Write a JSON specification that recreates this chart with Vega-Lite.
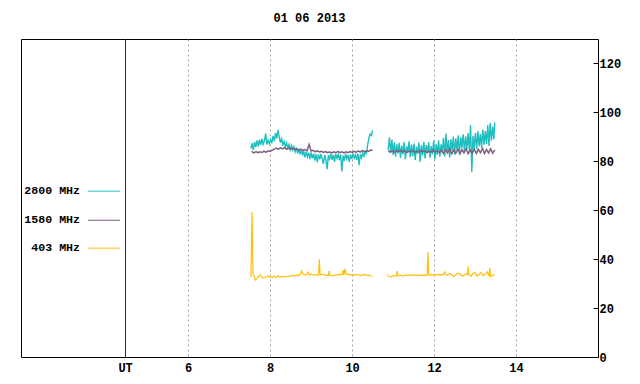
{
"$schema": "https://vega.github.io/schema/vega-lite/v6.json",
"width": 577, "height": 318,
"autosize": {"type": "none"},
"padding": {"left": 21, "top": 39, "right": 42, "bottom": 27},
"background": "white",
"title": {"text": "01 06 2013", "font": "Liberation Mono", "fontSize": 12, "fontWeight": "bold", "color": "black", "offset": 14, "anchor": "middle"},
"config": {
  "view": {"stroke": "black", "strokeWidth": 1},
  "axis": {"labelFont": "Liberation Mono", "labelFontSize": 12, "labelFontWeight": "bold", "labelColor": "black", "domain": false, "title": null}
},
"datasets": {
  "f2800": [
{"s":1,"t":7.53,"v":85.2},{"s":1,"t":7.56,"v":87.4},{"s":1,"t":7.59,"v":84.6},{"s":1,"t":7.62,"v":87.9},{"s":1,"t":7.65,"v":85.8},{"s":1,"t":7.68,"v":88.6},{"s":1,"t":7.71,"v":86.1},{"s":1,"t":7.74,"v":88.9},{"s":1,"t":7.77,"v":86.7},{"s":1,"t":7.80,"v":89.2},
{"s":1,"t":7.83,"v":87.0},{"s":1,"t":7.86,"v":88.4},{"s":1,"t":7.89,"v":91.3},{"s":1,"t":7.92,"v":86.9},{"s":1,"t":7.95,"v":88.6},{"s":1,"t":7.98,"v":87.2},{"s":1,"t":8.01,"v":88.9},{"s":1,"t":8.04,"v":87.4},{"s":1,"t":8.07,"v":90.4},{"s":1,"t":8.10,"v":88.2},
{"s":1,"t":8.13,"v":91.6},{"s":1,"t":8.16,"v":89.3},{"s":1,"t":8.19,"v":92.8},{"s":1,"t":8.22,"v":90.1},{"s":1,"t":8.25,"v":87.6},{"s":1,"t":8.28,"v":89.2},{"s":1,"t":8.31,"v":86.8},{"s":1,"t":8.34,"v":88.1},{"s":1,"t":8.37,"v":85.9},{"s":1,"t":8.40,"v":87.6},
{"s":1,"t":8.43,"v":85.4},{"s":1,"t":8.46,"v":86.9},{"s":1,"t":8.49,"v":84.8},{"s":1,"t":8.52,"v":86.5},{"s":1,"t":8.55,"v":84.6},{"s":1,"t":8.58,"v":86.0},{"s":1,"t":8.61,"v":83.9},{"s":1,"t":8.64,"v":85.6},{"s":1,"t":8.67,"v":83.2},{"s":1,"t":8.70,"v":85.1},
{"s":1,"t":8.73,"v":82.9},{"s":1,"t":8.76,"v":84.7},{"s":1,"t":8.79,"v":82.4},{"s":1,"t":8.82,"v":84.2},{"s":1,"t":8.85,"v":81.6},{"s":1,"t":8.88,"v":83.9},{"s":1,"t":8.91,"v":81.8},{"s":1,"t":8.94,"v":83.5},{"s":1,"t":8.97,"v":80.9},{"s":1,"t":9.00,"v":83.6},
{"s":1,"t":9.03,"v":81.2},{"s":1,"t":9.06,"v":83.1},{"s":1,"t":9.09,"v":80.4},{"s":1,"t":9.12,"v":82.9},{"s":1,"t":9.15,"v":79.6},{"s":1,"t":9.18,"v":82.8},{"s":1,"t":9.21,"v":80.8},{"s":1,"t":9.24,"v":83.0},{"s":1,"t":9.27,"v":81.1},{"s":1,"t":9.30,"v":78.9},
{"s":1,"t":9.33,"v":82.6},{"s":1,"t":9.36,"v":80.7},{"s":1,"t":9.39,"v":76.8},{"s":1,"t":9.42,"v":82.5},{"s":1,"t":9.45,"v":80.9},{"s":1,"t":9.48,"v":83.1},{"s":1,"t":9.51,"v":80.6},{"s":1,"t":9.54,"v":82.7},{"s":1,"t":9.57,"v":79.8},{"s":1,"t":9.60,"v":83.0},
{"s":1,"t":9.63,"v":81.2},{"s":1,"t":9.66,"v":82.8},{"s":1,"t":9.69,"v":80.5},{"s":1,"t":9.72,"v":82.9},{"s":1,"t":9.75,"v":75.9},{"s":1,"t":9.78,"v":82.4},{"s":1,"t":9.81,"v":80.2},{"s":1,"t":9.84,"v":83.1},{"s":1,"t":9.87,"v":81.0},{"s":1,"t":9.90,"v":82.6},
{"s":1,"t":9.93,"v":79.7},{"s":1,"t":9.96,"v":82.8},{"s":1,"t":9.99,"v":80.9},{"s":1,"t":10.02,"v":83.0},{"s":1,"t":10.05,"v":81.3},{"s":1,"t":10.08,"v":82.7},{"s":1,"t":10.11,"v":80.6},{"s":1,"t":10.14,"v":83.2},{"s":1,"t":10.17,"v":78.4},{"s":1,"t":10.20,"v":82.9},
{"s":1,"t":10.23,"v":81.4},{"s":1,"t":10.26,"v":83.6},{"s":1,"t":10.29,"v":82.1},{"s":1,"t":10.32,"v":84.0},{"s":1,"t":10.35,"v":83.2},{"s":1,"t":10.38,"v":86.8},{"s":1,"t":10.41,"v":89.6},{"s":1,"t":10.44,"v":91.2},{"s":1,"t":10.47,"v":90.6},{"s":1,"t":10.50,"v":92.6},
{"s":2,"t":10.88,"v":84.6},{"s":2,"t":10.91,"v":89.8},{"s":2,"t":10.94,"v":83.4},{"s":2,"t":10.97,"v":88.9},{"s":2,"t":11.00,"v":82.6},{"s":2,"t":11.03,"v":87.8},{"s":2,"t":11.06,"v":81.9},{"s":2,"t":11.09,"v":86.9},{"s":2,"t":11.12,"v":83.2},{"s":2,"t":11.15,"v":87.6},
{"s":2,"t":11.18,"v":81.4},{"s":2,"t":11.21,"v":86.4},{"s":2,"t":11.24,"v":82.8},{"s":2,"t":11.27,"v":87.9},{"s":2,"t":11.30,"v":80.9},{"s":2,"t":11.33,"v":86.1},{"s":2,"t":11.36,"v":83.5},{"s":2,"t":11.39,"v":88.2},{"s":2,"t":11.42,"v":81.7},{"s":2,"t":11.45,"v":86.8},
{"s":2,"t":11.48,"v":82.1},{"s":2,"t":11.51,"v":87.3},{"s":2,"t":11.54,"v":80.6},{"s":2,"t":11.57,"v":86.0},{"s":2,"t":11.60,"v":83.0},{"s":2,"t":11.63,"v":87.7},{"s":2,"t":11.66,"v":79.8},{"s":2,"t":11.69,"v":86.5},{"s":2,"t":11.72,"v":82.4},{"s":2,"t":11.75,"v":88.0},
{"s":2,"t":11.78,"v":81.2},{"s":2,"t":11.81,"v":86.6},{"s":2,"t":11.84,"v":83.3},{"s":2,"t":11.87,"v":87.9},{"s":2,"t":11.90,"v":81.5},{"s":2,"t":11.93,"v":86.2},{"s":2,"t":11.96,"v":82.9},{"s":2,"t":11.99,"v":88.4},{"s":2,"t":12.02,"v":80.8},{"s":2,"t":12.05,"v":87.0},
{"s":2,"t":12.08,"v":82.6},{"s":2,"t":12.11,"v":88.6},{"s":2,"t":12.14,"v":81.9},{"s":2,"t":12.17,"v":86.9},{"s":2,"t":12.20,"v":83.4},{"s":2,"t":12.23,"v":89.6},{"s":2,"t":12.26,"v":82.0},{"s":2,"t":12.29,"v":91.4},{"s":2,"t":12.32,"v":83.3},{"s":2,"t":12.35,"v":88.7},
{"s":2,"t":12.38,"v":81.6},{"s":2,"t":12.41,"v":89.0},{"s":2,"t":12.44,"v":84.2},{"s":2,"t":12.47,"v":90.1},{"s":2,"t":12.50,"v":82.7},{"s":2,"t":12.53,"v":89.4},{"s":2,"t":12.56,"v":84.8},{"s":2,"t":12.59,"v":90.6},{"s":2,"t":12.62,"v":83.1},{"s":2,"t":12.65,"v":89.8},
{"s":2,"t":12.68,"v":85.5},{"s":2,"t":12.71,"v":91.0},{"s":2,"t":12.74,"v":84.0},{"s":2,"t":12.77,"v":90.2},{"s":2,"t":12.80,"v":85.1},{"s":2,"t":12.83,"v":91.6},{"s":2,"t":12.86,"v":84.4},{"s":2,"t":12.89,"v":94.7},{"s":2,"t":12.92,"v":75.6},{"s":2,"t":12.95,"v":90.4},
{"s":2,"t":12.98,"v":85.3},{"s":2,"t":13.01,"v":91.7},{"s":2,"t":13.04,"v":84.9},{"s":2,"t":13.07,"v":92.3},{"s":2,"t":13.10,"v":86.2},{"s":2,"t":13.13,"v":91.1},{"s":2,"t":13.16,"v":85.6},{"s":2,"t":13.19,"v":93.0},{"s":2,"t":13.22,"v":86.8},{"s":2,"t":13.25,"v":92.4},
{"s":2,"t":13.28,"v":87.1},{"s":2,"t":13.31,"v":94.8},{"s":2,"t":13.34,"v":86.3},{"s":2,"t":13.37,"v":95.6},{"s":2,"t":13.40,"v":88.4},{"s":2,"t":13.43,"v":94.1},{"s":2,"t":13.46,"v":89.0},{"s":2,"t":13.48,"v":95.9}
  ],
  "f1580": [
{"s":1,"t":7.55,"v":84.1},{"s":1,"t":7.60,"v":83.4},{"s":1,"t":7.65,"v":84.0},{"s":1,"t":7.70,"v":83.5},{"s":1,"t":7.75,"v":83.9},{"s":1,"t":7.80,"v":83.6},{"s":1,"t":7.85,"v":84.2},{"s":1,"t":7.90,"v":83.7},{"s":1,"t":7.95,"v":84.3},{"s":1,"t":8.00,"v":84.0},
{"s":1,"t":8.05,"v":84.6},{"s":1,"t":8.10,"v":84.9},{"s":1,"t":8.15,"v":85.4},{"s":1,"t":8.20,"v":85.0},{"s":1,"t":8.25,"v":85.5},{"s":1,"t":8.30,"v":85.1},{"s":1,"t":8.35,"v":85.6},{"s":1,"t":8.40,"v":85.0},{"s":1,"t":8.45,"v":85.4},{"s":1,"t":8.50,"v":84.9},
{"s":1,"t":8.55,"v":85.3},{"s":1,"t":8.60,"v":84.8},{"s":1,"t":8.65,"v":85.1},{"s":1,"t":8.70,"v":84.6},{"s":1,"t":8.75,"v":85.0},{"s":1,"t":8.80,"v":84.5},{"s":1,"t":8.85,"v":84.8},{"s":1,"t":8.90,"v":84.3},{"s":1,"t":8.95,"v":86.9},{"s":1,"t":9.00,"v":84.2},
{"s":1,"t":9.05,"v":84.5},{"s":1,"t":9.10,"v":83.9},{"s":1,"t":9.15,"v":84.3},{"s":1,"t":9.20,"v":83.8},{"s":1,"t":9.25,"v":84.1},{"s":1,"t":9.30,"v":83.6},{"s":1,"t":9.35,"v":84.0},{"s":1,"t":9.40,"v":83.5},{"s":1,"t":9.45,"v":83.9},{"s":1,"t":9.50,"v":83.4},
{"s":1,"t":9.55,"v":83.9},{"s":1,"t":9.60,"v":83.5},{"s":1,"t":9.65,"v":84.0},{"s":1,"t":9.70,"v":83.6},{"s":1,"t":9.75,"v":83.9},{"s":1,"t":9.80,"v":83.4},{"s":1,"t":9.85,"v":83.9},{"s":1,"t":9.90,"v":83.5},{"s":1,"t":9.95,"v":84.0},{"s":1,"t":10.00,"v":83.6},
{"s":1,"t":10.05,"v":84.1},{"s":1,"t":10.10,"v":83.7},{"s":1,"t":10.15,"v":84.2},{"s":1,"t":10.20,"v":83.8},{"s":1,"t":10.25,"v":84.4},{"s":1,"t":10.30,"v":83.9},{"s":1,"t":10.35,"v":84.3},{"s":1,"t":10.40,"v":84.0},{"s":1,"t":10.45,"v":84.6},{"s":1,"t":10.50,"v":84.4},
{"s":2,"t":10.88,"v":84.3},{"s":2,"t":10.93,"v":83.8},{"s":2,"t":10.98,"v":84.4},{"s":2,"t":11.03,"v":83.7},{"s":2,"t":11.08,"v":84.2},{"s":2,"t":11.13,"v":83.9},{"s":2,"t":11.18,"v":84.5},{"s":2,"t":11.23,"v":83.8},{"s":2,"t":11.28,"v":84.3},{"s":2,"t":11.33,"v":83.6},
{"s":2,"t":11.38,"v":84.2},{"s":2,"t":11.43,"v":83.9},{"s":2,"t":11.48,"v":84.4},{"s":2,"t":11.53,"v":83.7},{"s":2,"t":11.58,"v":84.1},{"s":2,"t":11.63,"v":83.8},{"s":2,"t":11.68,"v":84.5},{"s":2,"t":11.73,"v":83.9},{"s":2,"t":11.78,"v":84.3},{"s":2,"t":11.83,"v":83.6},
{"s":2,"t":11.88,"v":84.2},{"s":2,"t":11.93,"v":83.8},{"s":2,"t":11.98,"v":84.4},{"s":2,"t":12.03,"v":83.7},{"s":2,"t":12.08,"v":84.3},{"s":2,"t":12.13,"v":83.5},{"s":2,"t":12.18,"v":84.6},{"s":2,"t":12.23,"v":83.2},{"s":2,"t":12.28,"v":84.9},{"s":2,"t":12.33,"v":83.4},
{"s":2,"t":12.38,"v":85.0},{"s":2,"t":12.43,"v":83.1},{"s":2,"t":12.48,"v":84.7},{"s":2,"t":12.53,"v":83.3},{"s":2,"t":12.58,"v":85.1},{"s":2,"t":12.63,"v":83.0},{"s":2,"t":12.68,"v":84.8},{"s":2,"t":12.73,"v":83.4},{"s":2,"t":12.78,"v":85.2},{"s":2,"t":12.83,"v":83.1},
{"s":2,"t":12.88,"v":84.6},{"s":2,"t":12.93,"v":83.3},{"s":2,"t":12.98,"v":85.0},{"s":2,"t":13.03,"v":83.2},{"s":2,"t":13.08,"v":84.9},{"s":2,"t":13.13,"v":83.5},{"s":2,"t":13.18,"v":85.3},{"s":2,"t":13.23,"v":83.2},{"s":2,"t":13.28,"v":84.8},{"s":2,"t":13.33,"v":83.4},
{"s":2,"t":13.38,"v":85.1},{"s":2,"t":13.43,"v":83.3},{"s":2,"t":13.48,"v":84.7}
  ],
  "f403": [
{"s":1,"t":7.53,"v":32.6},{"s":1,"t":7.56,"v":59.3},{"s":1,"t":7.58,"v":33.8},{"s":1,"t":7.61,"v":33.0},{"s":1,"t":7.64,"v":31.4},{"s":1,"t":7.67,"v":31.9},{"s":1,"t":7.70,"v":32.6},{"s":1,"t":7.73,"v":33.1},{"s":1,"t":7.76,"v":33.5},{"s":1,"t":7.79,"v":32.9},
{"s":1,"t":7.82,"v":32.3},{"s":1,"t":7.85,"v":32.4},{"s":1,"t":7.88,"v":32.6},{"s":1,"t":7.91,"v":32.9},{"s":1,"t":7.94,"v":33.0},{"s":1,"t":7.97,"v":32.6},{"s":1,"t":8.00,"v":32.9},{"s":1,"t":8.05,"v":32.5},{"s":1,"t":8.10,"v":33.1},{"s":1,"t":8.15,"v":32.4},
{"s":1,"t":8.20,"v":33.2},{"s":1,"t":8.25,"v":32.6},{"s":1,"t":8.30,"v":32.9},{"s":1,"t":8.35,"v":32.7},{"s":1,"t":8.40,"v":33.0},{"s":1,"t":8.45,"v":32.8},{"s":1,"t":8.50,"v":33.2},{"s":1,"t":8.55,"v":33.4},{"s":1,"t":8.60,"v":33.3},{"s":1,"t":8.65,"v":33.5},
{"s":1,"t":8.70,"v":33.4},{"s":1,"t":8.74,"v":33.9},{"s":1,"t":8.77,"v":35.2},{"s":1,"t":8.80,"v":33.8},{"s":1,"t":8.85,"v":33.5},{"s":1,"t":8.90,"v":34.1},{"s":1,"t":8.93,"v":34.7},{"s":1,"t":8.95,"v":33.6},{"s":1,"t":9.00,"v":33.9},{"s":1,"t":9.05,"v":33.5},
{"s":1,"t":9.10,"v":33.8},{"s":1,"t":9.15,"v":33.4},{"s":1,"t":9.18,"v":33.7},{"s":1,"t":9.20,"v":39.9},{"s":1,"t":9.22,"v":33.6},{"s":1,"t":9.28,"v":33.9},{"s":1,"t":9.33,"v":33.5},{"s":1,"t":9.38,"v":33.4},{"s":1,"t":9.42,"v":33.3},{"s":1,"t":9.44,"v":35.2},
{"s":1,"t":9.46,"v":33.4},{"s":1,"t":9.52,"v":33.3},{"s":1,"t":9.58,"v":33.4},{"s":1,"t":9.64,"v":33.7},{"s":1,"t":9.70,"v":33.8},{"s":1,"t":9.76,"v":33.6},{"s":1,"t":9.78,"v":35.5},{"s":1,"t":9.80,"v":33.6},{"s":1,"t":9.83,"v":36.0},{"s":1,"t":9.86,"v":33.8},
{"s":1,"t":9.90,"v":33.9},{"s":1,"t":9.95,"v":33.6},{"s":1,"t":10.00,"v":33.7},{"s":1,"t":10.05,"v":33.4},{"s":1,"t":10.10,"v":33.8},{"s":1,"t":10.15,"v":33.6},{"s":1,"t":10.20,"v":33.3},{"s":1,"t":10.25,"v":33.5},{"s":1,"t":10.30,"v":33.8},{"s":1,"t":10.35,"v":33.4},
{"s":1,"t":10.40,"v":33.6},{"s":1,"t":10.45,"v":33.1},{"s":1,"t":10.50,"v":33.0},
{"s":2,"t":10.85,"v":33.4},{"s":2,"t":10.90,"v":33.0},{"s":2,"t":10.95,"v":32.8},{"s":2,"t":11.00,"v":33.3},{"s":2,"t":11.05,"v":33.1},{"s":2,"t":11.08,"v":33.2},{"s":2,"t":11.10,"v":35.1},{"s":2,"t":11.12,"v":33.2},{"s":2,"t":11.18,"v":33.4},{"s":2,"t":11.24,"v":33.1},
{"s":2,"t":11.30,"v":33.5},{"s":2,"t":11.36,"v":33.4},{"s":2,"t":11.42,"v":33.6},{"s":2,"t":11.48,"v":33.5},{"s":2,"t":11.54,"v":33.6},{"s":2,"t":11.60,"v":33.4},{"s":2,"t":11.66,"v":33.6},{"s":2,"t":11.72,"v":33.3},{"s":2,"t":11.78,"v":33.5},{"s":2,"t":11.83,"v":33.4},
{"s":2,"t":11.85,"v":42.9},{"s":2,"t":11.87,"v":33.6},{"s":2,"t":11.92,"v":33.7},{"s":2,"t":11.98,"v":33.5},{"s":2,"t":12.04,"v":33.8},{"s":2,"t":12.10,"v":33.6},{"s":2,"t":12.16,"v":33.7},{"s":2,"t":12.22,"v":33.5},{"s":2,"t":12.26,"v":34.8},{"s":2,"t":12.28,"v":33.6},
{"s":2,"t":12.33,"v":33.4},{"s":2,"t":12.38,"v":34.2},{"s":2,"t":12.43,"v":33.6},{"s":2,"t":12.48,"v":32.8},{"s":2,"t":12.53,"v":33.6},{"s":2,"t":12.58,"v":34.3},{"s":2,"t":12.63,"v":34.0},{"s":2,"t":12.68,"v":33.1},{"s":2,"t":12.73,"v":33.4},{"s":2,"t":12.78,"v":34.1},
{"s":2,"t":12.82,"v":33.5},{"s":2,"t":12.83,"v":37.0},{"s":2,"t":12.85,"v":34.0},{"s":2,"t":12.90,"v":33.0},{"s":2,"t":12.95,"v":34.2},{"s":2,"t":13.00,"v":34.5},{"s":2,"t":13.05,"v":33.1},{"s":2,"t":13.10,"v":33.8},{"s":2,"t":13.15,"v":34.6},{"s":2,"t":13.20,"v":33.3},
{"s":2,"t":13.25,"v":33.9},{"s":2,"t":13.30,"v":34.8},{"s":2,"t":13.34,"v":33.0},{"s":2,"t":13.36,"v":36.5},{"s":2,"t":13.38,"v":32.8},{"s":2,"t":13.43,"v":33.4},{"s":2,"t":13.48,"v":33.7}
  ],
  "legend": [
{"name":"2800 MHz"}
  ]
},
"layer": [
  {
    "data": {"name": "f2800"},
    "mark": {"type": "line", "color": "#1fbfbf", "strokeWidth": 1.4},
    "encoding": {
      "x": {"field": "t", "type": "quantitative",
            "scale": {"domain": [1.92, 16], "nice": false, "zero": false},
            "axis": {"values": [4.46, 6, 8, 10, 12, 14], "format": "d", "labelExpr": "datum.value < 5 ? 'UT' : datum.label", "grid": true, "gridDash": [2, 3], "gridColor": "#a0a0a0", "ticks": false, "labelPadding": 5}},
      "y": {"field": "v", "type": "quantitative",
            "scale": {"domain": [0, 130], "nice": false, "zero": true},
            "axis": {"orient": "right", "values": [0, 20, 40, 60, 80, 100, 120], "grid": false, "tickColor": "black", "tickSize": -5, "labelPadding": 6, "labelBaseline": "middle"}},
      "detail": {"field": "s", "type": "nominal"}
    }
  },
  {
    "data": {"name": "f1580"},
    "mark": {"type": "line", "color": "#7f5f80", "strokeWidth": 1.5},
    "encoding": {
      "x": {"field": "t", "type": "quantitative"},
      "y": {"field": "v", "type": "quantitative"},
      "detail": {"field": "s", "type": "nominal"}
    }
  },
  {
    "data": {"name": "f403"},
    "mark": {"type": "line", "color": "#ffbf10", "strokeWidth": 1.2},
    "encoding": {
      "x": {"field": "t", "type": "quantitative"},
      "y": {"field": "v", "type": "quantitative"},
      "detail": {"field": "s", "type": "nominal"}
    }
  },
  {
    "data": {"name": "legend"},
    "mark": {"type": "rule", "color": "#8b0000", "strokeWidth": 1},
    "encoding": {"x": {"datum": 4.47}}
  },
  {
    "data": {"name": "legend"},
    "mark": {"type": "rule", "color": "#1fbfbf", "strokeWidth": 1},
    "encoding": {"x": {"datum": 3.555}, "x2": {"datum": 4.335}, "y": {"datum": 67.8}}
  },
  {
    "data": {"name": "legend"},
    "mark": {"type": "rule", "color": "#7f5f80", "strokeWidth": 1},
    "encoding": {"x": {"datum": 3.555}, "x2": {"datum": 4.335}, "y": {"datum": 55.9}}
  },
  {
    "data": {"name": "legend"},
    "mark": {"type": "rule", "color": "#ffbf10", "strokeWidth": 1},
    "encoding": {"x": {"datum": 3.555}, "x2": {"datum": 4.335}, "y": {"datum": 44.5}}
  },
  {
    "data": {"name": "legend"},
    "mark": {"type": "text", "align": "right", "baseline": "middle", "font": "Liberation Mono", "fontSize": 11.6, "fontWeight": "bold", "color": "black"},
    "encoding": {"x": {"datum": 3.36}, "y": {"datum": 67.8}, "text": {"value": "2800 MHz"}}
  },
  {
    "data": {"name": "legend"},
    "mark": {"type": "text", "align": "right", "baseline": "middle", "font": "Liberation Mono", "fontSize": 11.6, "fontWeight": "bold", "color": "black"},
    "encoding": {"x": {"datum": 3.36}, "y": {"datum": 55.9}, "text": {"value": "1580 MHz"}}
  },
  {
    "data": {"name": "legend"},
    "mark": {"type": "text", "align": "right", "baseline": "middle", "font": "Liberation Mono", "fontSize": 11.6, "fontWeight": "bold", "color": "black"},
    "encoding": {"x": {"datum": 3.36}, "y": {"datum": 44.5}, "text": {"value": "403 MHz"}}
  }
]
}
